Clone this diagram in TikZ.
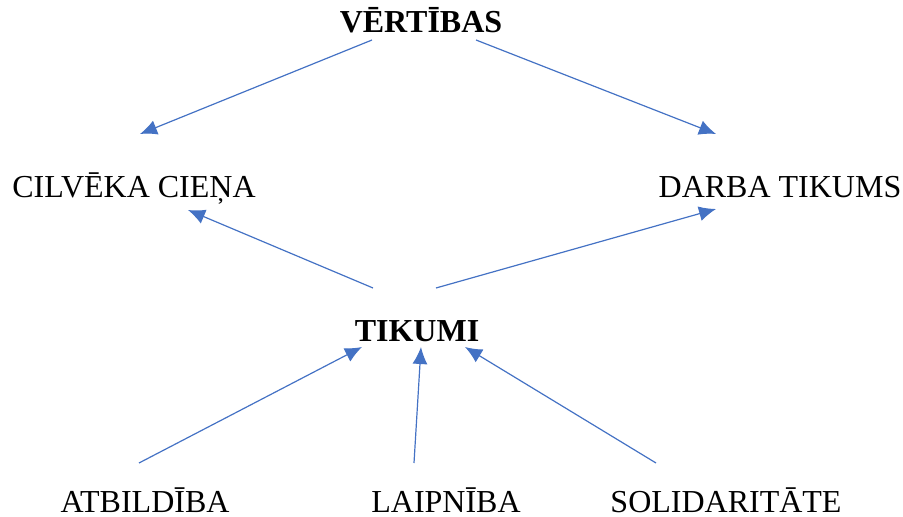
\documentclass[tikz,border=0pt]{standalone}
\usepackage{fontspec}
\setmainfont{Liberation Serif}
\usetikzlibrary{arrows.meta}

\begin{document}
\begin{tikzpicture}[x=0.5pt, y=-0.5pt,
    word/.style={anchor=base, inner sep=0pt, font=\fontsize{16}{19}\selectfont},
    head/.style={word, font=\fontsize{16}{19}\selectfont\bfseries},
    link/.style={draw=arrowblue, line width=0.6pt, -{Latex[length=8.5pt,width=7.5pt]}}]
        % Define colors
        \definecolor{arrowblue}{RGB}{68, 114, 196}
        \useasboundingbox (0,0) rectangle (903,517);

        % --- TOP (values) ---
        \node[head] (vertibas) at (421, 33) {VĒRTĪBAS};
        \node[word] (ciena) at (134, 198) {CILVĒKA CIEŅA};
        \node[word] (darbs) at (780, 198) {DARBA TIKUMS};

        % --- MIDDLE (virtues) ---
        \node[head] (tikumi) at (417, 342) {TIKUMI};

        % --- BOTTOM ---
        \node[word] (atbildiba) at (145, 512) {ATBILDĪBA};
        \node[word] (laipniba) at (446, 512) {LAIPNĪBA};
        \node[word] (solidaritate) at (726, 512) {SOLIDARITĀTE};

        % Arrow ends
        \coordinate (v-l) at (372, 40);
        \coordinate (v-r) at (476, 40);
        \coordinate (c-in) at (140, 134);
        \coordinate (d-in) at (716, 134);
        \coordinate (c-up) at (188, 210);
        \coordinate (d-up) at (716, 209);
        \coordinate (t-l) at (373, 288);
        \coordinate (t-r) at (436, 288);
        \coordinate (t-in1) at (362, 347);
        \coordinate (t-in2) at (421, 347);
        \coordinate (t-in3) at (465, 347);
        \coordinate (a-out) at (139, 463);
        \coordinate (l-out) at (414, 463);
        \coordinate (s-out) at (656, 463);

        % Arrows
        \draw[link] (v-l) -- (c-in);
        \draw[link] (v-r) -- (d-in);
        \draw[link] (t-l) -- (c-up);
        \draw[link] (t-r) -- (d-up);
        \foreach \from/\to in {a-out/t-in1, l-out/t-in2, s-out/t-in3}
            \draw[link] (\from) -- (\to);
    \end{tikzpicture}
\end{document}
